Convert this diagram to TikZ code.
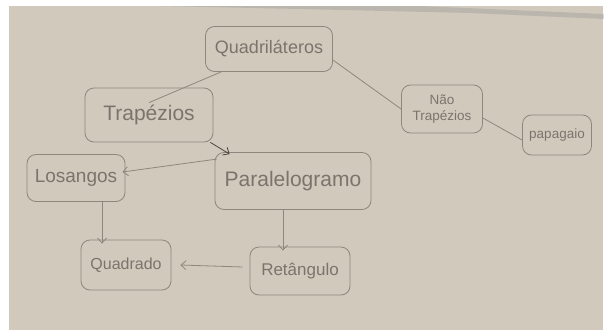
\documentclass[tikz,border=0pt]{standalone}
\usepackage{fontspec}
\setmainfont{Liberation Sans}
\usetikzlibrary{arrows.meta,calc}
\definecolor{board}{HTML}{D0C9BC}
\definecolor{ink}{HTML}{7A746C}
\definecolor{boxline}{HTML}{8E877B}
\definecolor{darkink}{HTML}{4A4540}
\tikzset{
  concept/.style={draw=boxline, line width=0.8pt, rounded corners=9pt, text=ink, inner sep=0pt, anchor=center, align=center},
  link/.style={draw=boxline, line width=0.8pt},
  arrowlink/.style={draw=boxline, line width=0.8pt, -{Straight Barb[length=5pt,width=9pt]}},
}
\begin{document}
\begin{tikzpicture}[x=1pt,y=-1pt]
\useasboundingbox (0,0) rectangle (604,332);
\fill[white] (0,0) rectangle (604,332);
\fill[board] (9,6) rectangle (603,330);
\fill[black!45,opacity=0.3] (160,6) -- (420,6) -- (604,14) -- (604,19) -- (470,13) -- (300,9) -- cycle;

\node[concept, minimum width=127pt, minimum height=45pt, font=\fontsize{18}{20}\selectfont] (quad) at (269,49) {Quadriláteros};
\node[concept, minimum width=128pt, minimum height=54pt, font=\fontsize{21}{24}\selectfont] (trap) at (149,115) {Trapézios};
\node[concept, minimum width=81pt, minimum height=48pt, font=\fontsize{13.5}{16}\selectfont] (ntrap) at (442,109) {Não\\Trapézios};
\node[concept, minimum width=69pt, minimum height=40pt, font=\fontsize{13.5}{16}\selectfont] (papa) at (557,135) {papagaio};
\node[concept, minimum width=98pt, minimum height=47pt, font=\fontsize{19}{22}\selectfont] (los) at (76,178) {Losangos};
\node[concept, minimum width=156pt, minimum height=57pt, font=\fontsize{21}{24}\selectfont] (para) at (293,181) {Paralelogramo};
\node[concept, minimum width=90pt, minimum height=50pt, font=\fontsize{16}{19}\selectfont] (qdo) at (126,265) {Quadrado};
\node[concept, minimum width=100pt, minimum height=48pt, font=\fontsize{17}{20}\selectfont] (ret) at (300,271) {Retângulo};

\draw[link] ([xshift=16pt]quad.south west) -- ([yshift=-15pt]trap.north);
\draw[link] ([yshift=-11pt]quad.east) -- (ntrap.west);
\draw[link] ([yshift=-9pt]ntrap.east) -- ([yshift=-5pt]papa.west);
\draw[arrowlink, draw=darkink] ([xshift=-3pt]trap.south east) -- ([shift={(15pt,-2pt)}]para.north west);
\draw[arrowlink] ([shift={(2pt,-7pt)}]para.north west) -- ([shift={(-3pt,6pt)}]los.east);
\draw[arrowlink] ([xshift=26pt]los.south) -- ([shift={(-24pt,-4pt)}]qdo.north);
\draw[arrowlink] ([xshift=-10pt]para.south) -- ([shift={(-17pt,-4pt)}]ret.north);
\draw[arrowlink] ([shift={(-7pt,4pt)}]ret.west) -- ([xshift=9pt]qdo.east);
\end{tikzpicture}
\end{document}
